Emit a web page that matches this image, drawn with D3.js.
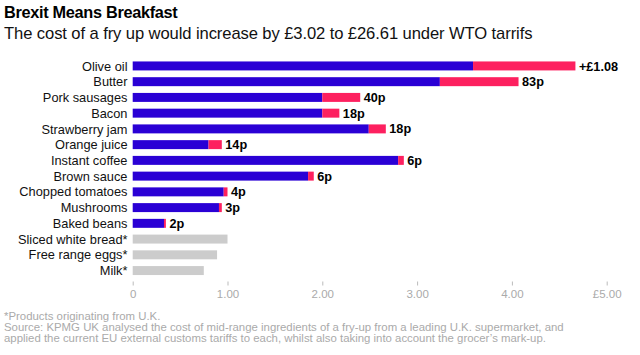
<!DOCTYPE html>
<html>
<head>
<meta charset="utf-8">
<script src="https://cdn.jsdelivr.net/npm/d3@7"></script>
<style>
  html, body { margin: 0; padding: 0; background: #fff; }
  svg { display: block; font-family: "Liberation Sans", Arial, Helvetica, sans-serif; }
</style>
</head>
<body>
<svg id="chart" width="640" height="355"></svg>
<script>
// ---- Data ----
const categories = ["Olive oil", "Butter", "Pork sausages", "Bacon", "Strawberry jam", "Orange juice",
  "Instant coffee", "Brown sauce", "Chopped tomatoes", "Mushrooms", "Baked beans",
  "Sliced white bread*", "Free range eggs*", "Milk*"];
const currentCost = [3.59, 3.24, 2.00, 2.00, 2.49, 0.80, 2.80, 1.85, 0.96, 0.91, 0.33, 1.00, 0.89, 0.75];
const tariffIncrease = [1.08, 0.83, 0.40, 0.18, 0.18, 0.14, 0.06, 0.06, 0.04, 0.03, 0.02, 0, 0, 0];
const ukOrigin = [false, false, false, false, false, false, false, false, false, false, false, true, true, true];
const increaseLabels = ["+£1.08", "83p", "40p", "18p", "18p", "14p", "6p", "6p", "4p", "3p", "2p", "", "", ""];
const tickValues = [0, 1, 2, 3, 4, 5];
const tickLabels = ["0", "1.00", "2.00", "3.00", "4.00", "£5.00"];

const titleText = "Brexit Means Breakfast";
const subtitleText = "The cost of a fry up would increase by £3.02 to £26.61 under WTO tarrifs";
const noteLines = [
  "*Products originating from U.K.",
  "Source: KPMG UK analysed the cost of mid-range ingredients of a fry-up from a leading U.K. supermarket, and",
  "applied the current EU external customs tariffs to each, whilst also taking into account the grocer\u2019s mark-up."
];

// ---- Colours ----
const BLUE = "#2a00d5";
const PINK = "#fd205f";
const GREY = "#cccccc";

const svg = d3.select("#chart");

const x = d3.scaleLinear().domain([0, 5]).range([132.7, 606.7]);
const y = d3.scaleBand().domain(categories).range([58.3, 278.2]).paddingInner(0.43).paddingOuter(0.2);

// Title and subtitle
svg.append("text").attr("x", 4).attr("y", 18)
  .attr("font-size", 16.3).attr("font-weight", "bold").attr("fill", "#000")
  .attr("letter-spacing", -0.3)
  .text(titleText);
svg.append("text").attr("x", 4).attr("y", 38.5)
  .attr("font-size", 16.6).attr("fill", "#111")
  .attr("letter-spacing", -0.1)
  .text(subtitleText);

const rows = categories.map((c, i) => ({
  cat: c, base: currentCost[i], inc: tariffIncrease[i], uk: ukOrigin[i], label: increaseLabels[i]
}));

// Base bars
svg.append("g").selectAll("rect.base").data(rows).join("rect")
  .attr("x", x(0))
  .attr("y", d => y(d.cat))
  .attr("width", d => x(d.base) - x(0))
  .attr("height", y.bandwidth())
  .attr("fill", d => d.uk ? GREY : BLUE);

// Increase bars
svg.append("g").selectAll("rect.inc").data(rows.filter(d => d.inc > 0)).join("rect")
  .attr("x", d => x(d.base))
  .attr("y", d => y(d.cat))
  .attr("width", d => x(d.base + d.inc) - x(d.base))
  .attr("height", y.bandwidth())
  .attr("fill", PINK);

// Category labels
svg.append("g").selectAll("text").data(rows).join("text")
  .attr("x", 127.5)
  .attr("y", d => y(d.cat) + y.bandwidth() / 2)
  .attr("dy", "0.36em")
  .attr("text-anchor", "end")
  .attr("font-size", 12.8)
  .attr("fill", "#111")
  .text(d => d.cat);

// Value labels
svg.append("g").selectAll("text").data(rows.filter(d => d.label)).join("text")
  .attr("x", d => x(d.base + d.inc) + 3.5)
  .attr("y", d => y(d.cat) + y.bandwidth() / 2)
  .attr("dy", "0.36em")
  .attr("font-size", 12.7)
  .attr("font-weight", "bold")
  .attr("fill", "#000")
  .text(d => d.label);

// Axis
const axis = d3.axisBottom(x)
  .tickValues(tickValues)
  .tickFormat((d, i) => tickLabels[i])
  .tickSize(4)
  .tickPadding(4.5);
const gAxis = svg.append("g").attr("transform", "translate(0,281.5)").call(axis);
gAxis.select(".domain").remove();
gAxis.selectAll(".tick line").attr("stroke", "#bbb");
gAxis.selectAll(".tick text").attr("fill", "#aaa").attr("font-size", 11.5)
  .attr("font-family", "'Liberation Sans', Arial, sans-serif");

// Notes
svg.append("g").selectAll("text").data(noteLines).join("text")
  .attr("x", 4)
  .attr("y", (d, i) => [320, 331.2, 342][i])
  .attr("font-size", 11.4)
  .attr("fill", "#aaa")
  .text(d => d);
</script>
</body>
</html>
